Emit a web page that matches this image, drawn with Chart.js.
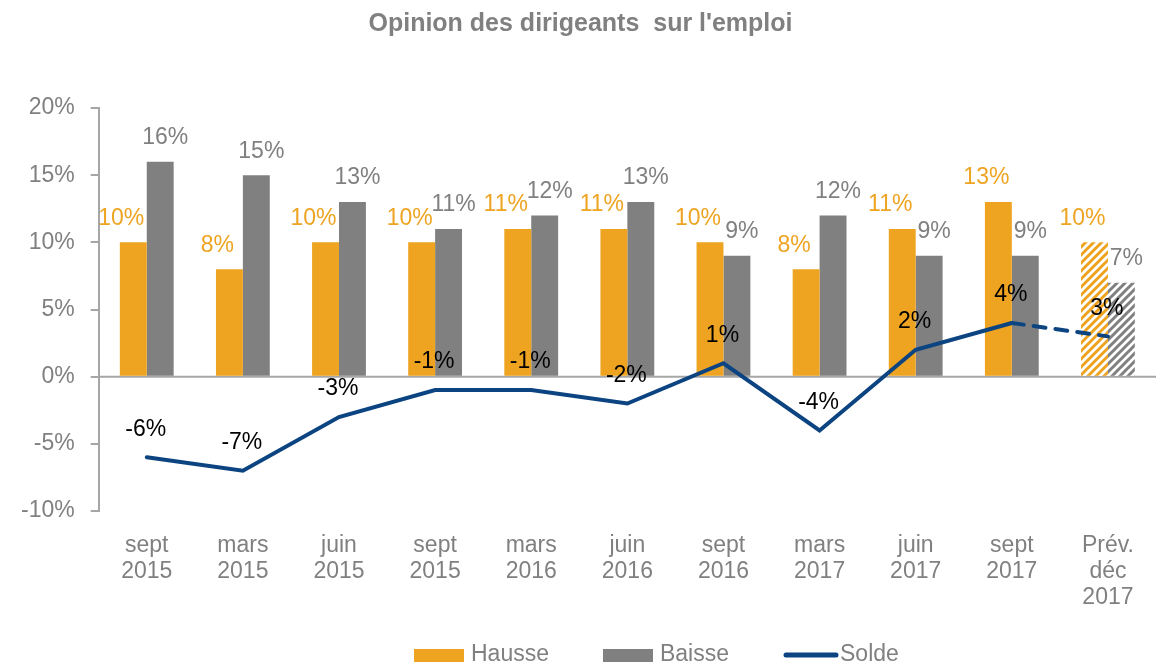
<!DOCTYPE html>
<html>
<head>
<meta charset="utf-8">
<script src="https://cdn.jsdelivr.net/npm/chart.js@4"></script>
<style>
  html, body { margin: 0; padding: 0; background: #ffffff; }
  #wrap { width: 1176px; height: 665px; }
</style>
</head>
<body>
<div id="wrap"><canvas id="chart" width="1176" height="665"></canvas></div>
<script>
// --- data ---
var categories = [
  ['sept', '2015'], ['mars', '2015'], ['juin', '2015'], ['sept', '2015'],
  ['mars', '2016'], ['juin', '2016'], ['sept', '2016'], ['mars', '2017'],
  ['juin', '2017'], ['sept', '2017'], ['Prév.', 'déc', '2017']
];
var hausse = [10, 8, 10, 10, 11, 11, 10, 8, 11, 13, 10];
var baisse = [16, 15, 13, 11, 12, 13, 9, 12, 9, 9, 7];
var solde  = [-6, -7, -3, -1, -1, -2, 1, -4, 2, 4, 3];
var yTicks = [-10, -5, 0, 5, 10, 15, 20];

var ORANGE = '#eea421';
var GREY = '#808080';
var BLUE = '#0b4480';
var TEXT = '#808080';
var FONT = '"Liberation Sans", Arial, sans-serif';
var FS = 23;

// diagonal stripes for the forecast bars
function stripes(color) {
  var c = document.createElement('canvas');
  c.width = 8; c.height = 8;
  var g = c.getContext('2d');
  g.fillStyle = '#ffffff';
  g.fillRect(0, 0, 8, 8);
  g.strokeStyle = color;
  g.lineWidth = 3;
  g.beginPath();
  g.moveTo(-2, 10); g.lineTo(10, -2);
  g.moveTo(-2, 2); g.lineTo(2, -2);
  g.moveTo(6, 10); g.lineTo(10, 6);
  g.stroke();
  return g.createPattern(c, 'repeat');
}

function barColors(base) {
  var pat = stripes(base);
  return hausse.map(function(v, i) { return i === hausse.length - 1 ? pat : base; });
}

// zero line drawn under the bars
var zeroLine = {
  id: 'zeroLine',
  beforeDatasetsDraw: function(chart) {
    var ctx = chart.ctx, a = chart.chartArea;
    var y = chart.scales.y.getPixelForValue(0);
    ctx.save();
    ctx.strokeStyle = '#a6a6a6';
    ctx.lineWidth = 2;
    ctx.beginPath();
    ctx.moveTo(a.left, y);
    ctx.lineTo(a.right, y);
    ctx.stroke();
    ctx.restore();
  }
};

// value labels
var valueLabels = {
  id: 'valueLabels',
  afterDatasetsDraw: function(chart) {
    var ctx = chart.ctx;
    ctx.save();
    ctx.font = FS + 'px ' + FONT;
    ctx.textAlign = 'center';
    ctx.textBaseline = 'middle';
    chart.getDatasetMeta(0).data.forEach(function(el, i) {
      ctx.fillStyle = ORANGE;
      ctx.fillText(hausse[i] + '%', el.x - 12, el.y - 24);
    });
    chart.getDatasetMeta(1).data.forEach(function(el, i) {
      ctx.fillStyle = TEXT;
      ctx.fillText(baisse[i] + '%', el.x + 5, el.y - 24);
    });
    chart.getDatasetMeta(2).data.forEach(function(el, i) {
      ctx.fillStyle = '#000000';
      ctx.fillText(solde[i] + '%', el.x - 1, el.y - 28);
    });
    ctx.restore();
  }
};

// legend drawn by hand so the gap above it stays small
var bottomLegend = {
  id: 'bottomLegend',
  afterDraw: function(chart) {
    var ctx = chart.ctx;
    var y = 655, x = 414;
    ctx.save();
    ctx.font = FS + 'px ' + FONT;
    ctx.textBaseline = 'middle';
    chart.data.datasets.forEach(function(ds, i) {
      if (i === 2) {
        ctx.strokeStyle = BLUE;
        ctx.lineWidth = 5;
        ctx.lineCap = 'round';
        ctx.beginPath();
        ctx.moveTo(x + 3, y);
        ctx.lineTo(x + 53, y);
        ctx.stroke();
      } else {
        ctx.fillStyle = i === 0 ? ORANGE : GREY;
        ctx.fillRect(x, y - 6, 50, 13);
      }
      x += 57;
      ctx.fillStyle = TEXT;
      ctx.fillText(ds.label, x, y);
      x += ctx.measureText(ds.label).width + 54;
    });
    ctx.restore();
  }
};

var lastIdx = solde.length - 1;

new Chart(document.getElementById('chart'), {
  type: 'bar',
  data: {
    labels: categories,
    datasets: [
      {
        label: 'Hausse',
        data: hausse,
        backgroundColor: barColors(ORANGE),
        categoryPercentage: 0.56,
        barPercentage: 1,
        order: 1
      },
      {
        label: 'Baisse',
        data: baisse,
        backgroundColor: barColors(GREY),
        categoryPercentage: 0.56,
        barPercentage: 1,
        order: 1
      },
      {
        type: 'line',
        label: 'Solde',
        data: solde,
        borderColor: BLUE,
        backgroundColor: BLUE,
        borderWidth: 4,
        borderCapStyle: 'round',
        pointRadius: 0,
        tension: 0,
        order: 0,
        segment: {
          borderDash: function(ctx) { return ctx.p1DataIndex === lastIdx ? [12, 10] : undefined; }
        }
      }
    ]
  },
  options: {
    responsive: false,
    animation: false,
    layout: { padding: { left: 5, right: 20, top: 9, bottom: 32 } },
    scales: {
      x: {
        grid: { display: false, drawTicks: false },
        border: { display: false },
        ticks: { color: TEXT, font: { size: FS, family: FONT, lineHeight: 1.13 }, padding: 22 }
      },
      y: {
        min: -10,
        max: 20,
        afterBuildTicks: function(axis) { axis.ticks = yTicks.map(function(v) { return { value: v }; }); },
        grid: { drawOnChartArea: false, drawTicks: true, tickLength: 8, tickColor: '#a6a6a6', lineWidth: 2 },
        border: { color: '#a6a6a6', width: 2 },
        ticks: {
          color: TEXT,
          font: { size: FS, family: FONT },
          padding: 16,
          callback: function(v) { return v + '%'; }
        }
      }
    },
    plugins: {
      title: {
        display: true,
        text: "Opinion des dirigeants  sur l'emploi",
        color: TEXT,
        font: { size: 25, weight: 'bold', family: FONT },
        padding: { top: 0, bottom: 69 }
      },
      tooltip: { enabled: false },
      legend: { display: false }
    }
  },
  plugins: [zeroLine, valueLabels, bottomLegend]
});
</script>
</body>
</html>
